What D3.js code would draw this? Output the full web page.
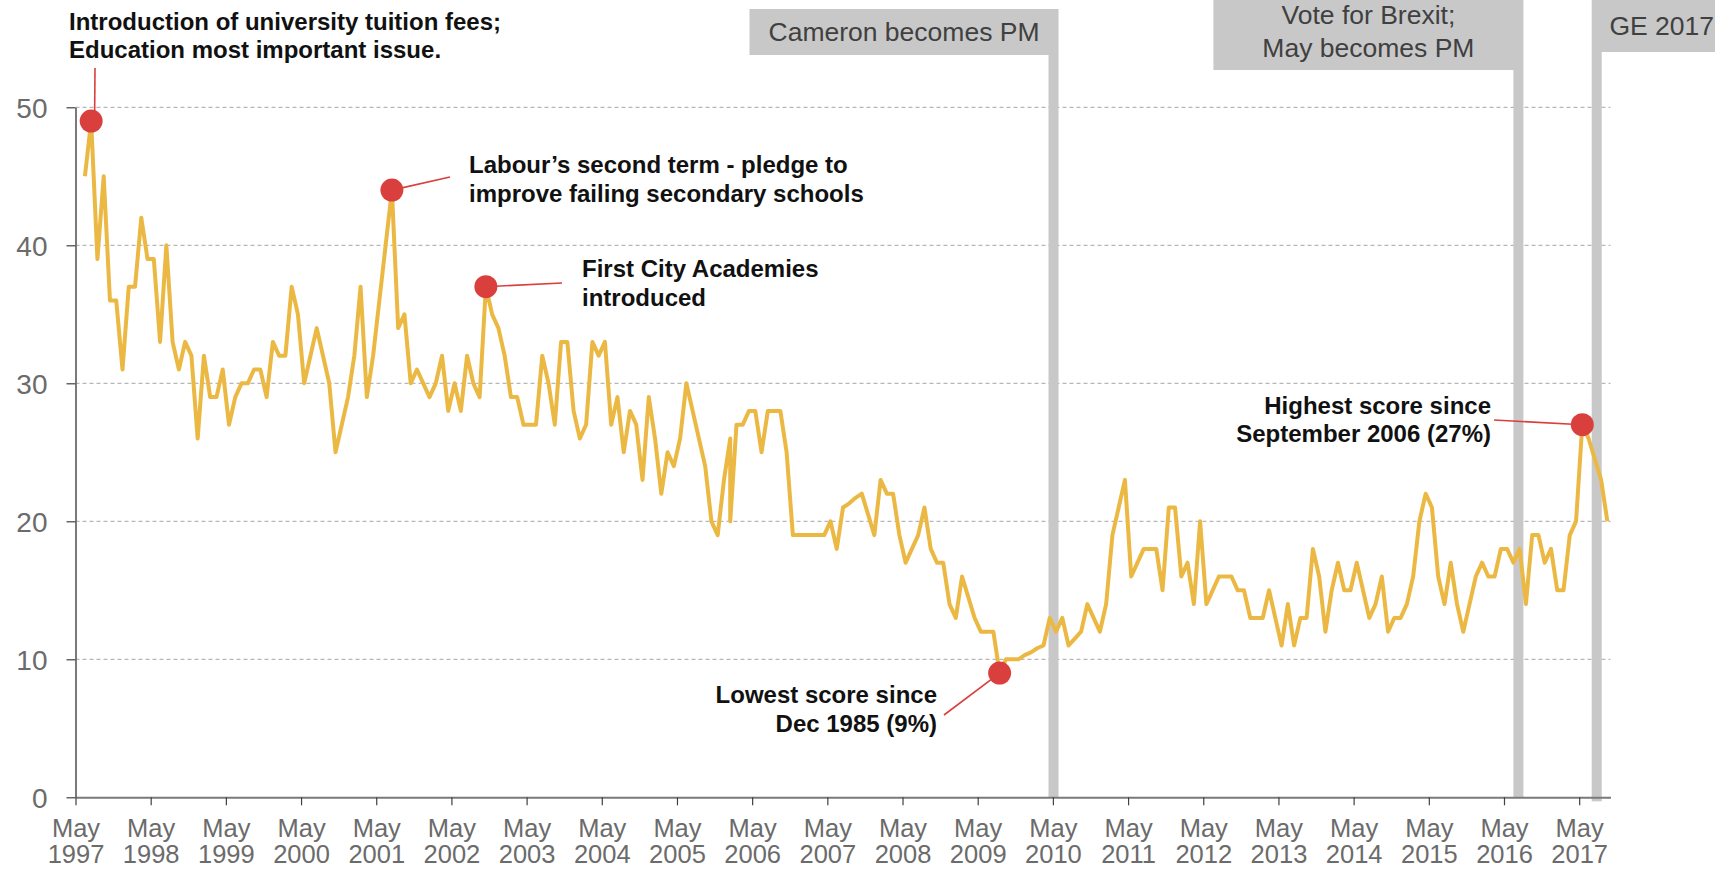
<!DOCTYPE html>
<html lang="en">
<head>
<meta charset="UTF-8">
<title>Education as an important issue</title>
<style>
    body { margin: 0; background: #fff; }
    svg { display: block; font-family: "Liberation Sans", Arial, sans-serif; }
    .grid line { stroke: #a6a6a6; stroke-width: 1; stroke-dasharray: 4,3; }
    .axis .domain { stroke: #7a7a7a; stroke-width: 2; }
    .axis .tick line { stroke: #404040; stroke-width: 1.2; }
    .axis text { fill: #6b6b6b; font-size: 25.5px; font-family: "Liberation Sans", Arial, sans-serif; }
    .axis.y text { font-size: 28px; }
    .series { fill: none; stroke: #ebb943; stroke-width: 4; stroke-linejoin: round; }
    .event rect { fill: #c8c8c8; }
    .event text { fill: #404040; font-size: 26.5px; text-anchor: middle; }
    .note text { fill: #111; font-size: 24px; font-weight: bold; }
    .note line { stroke: #d93f3c; stroke-width: 1.6; }
    .note circle { fill: #d93f3c; }
</style>
<script src="https://d3js.org/d3.v7.min.js"></script>
</head>
<body>
<script>
// monthly readings from June 1997; index 104 is a second reading in the same month as 103
const scores = [
    45, 49, 39, 45, 36, 36, 31, 37, 37, 42, 39, 39,
    33, 40, 33, 31, 33, 32, 26, 32, 29, 29, 31, 27,
    29, 30, 30, 31, 31, 29, 33, 32, 32, 37, 35, 30,
    32, 34, 32, 30, 25, 27, 29, 32, 37, 29, 32, 36,
    40, 44, 34, 35, 30, 31, 30, 29, 30, 32, 28, 30,
    28, 32, 30, 29, 37, 35, 34, 32, 29, 29, 27, 27,
    27, 32, 30, 27, 33, 33, 28, 26, 27, 33, 32, 33,
    27, 29, 25, 28, 27, 23, 29, 26, 22, 25, 24, 26,
    30, 28, 26, 24, 20, 19, 23, 26, 20,
    27, 27, 28, 28, 25, 28, 28, 28, 25, 19, 19, 19,
    19, 19, 19, 20, 18, 21, 21.3, 21.7, 22, 20.5, 19, 23,
    22, 22, 19, 17, 18, 19, 21, 18, 17, 17, 14, 13,
    16, 14.5, 13, 12, 12, 12, 9, 10, 10, 10, 10.3, 10.5,
    10.8, 11, 13, 12, 13, 11, 11.5, 12, 14, 13, 12, 14,
    19, 21, 23, 16, 17, 18, 18, 18, 15, 21, 21, 16,
    17, 14, 20, 14, 15, 16, 16, 16, 15, 15, 13, 13,
    13, 15, 13, 11, 14, 11, 13, 13, 18, 16, 12, 15,
    17, 15, 15, 17, 15, 13, 14, 16, 12, 13, 13, 14,
    16, 20, 22, 21, 16, 14, 17, 14, 12, 14, 16, 17,
    16, 16, 18, 18, 17, 18, 14, 19, 19, 17, 18, 15,
    15, 19, 20, 27, 26, 24.5, 23, 20
];
const sameMonthAsPrevious = [104];

const yTicks = [0, 10, 20, 30, 40, 50];
const tickMonth = "May";
const tickYears = ["1997", "1998", "1999", "2000", "2001", "2002", "2003", "2004", "2005", "2006",
    "2007", "2008", "2009", "2010", "2011", "2012", "2013", "2014", "2015", "2016", "2017"];

// months counted from May 1997
const events = [
    { lines: ["Cameron becomes PM"], month: 156.1 },
    { lines: ["Vote for Brexit;", "May becomes PM"], month: 230.3 },
    { lines: ["GE 2017"], month: 242.8 }
];

const notes = [
    { lines: ["Introduction of university tuition fees;", "Education most important issue."], at: 1 },
    { lines: ["Labour\u2019s second term - pledge to", "improve failing secondary schools"], at: 49 },
    { lines: ["First City Academies", "introduced"], at: 64 },
    { lines: ["Lowest score since", "Dec 1985 (9%)"], at: 147 },
    { lines: ["Highest score since", "September 2006 (27%)"], at: 240 }
];

const W = 1715, H = 869;
const x = d3.scaleLinear().domain([0, 245]).range([75.5, 1610.5]);
const y = d3.scaleLinear().domain([0, 50]).range([797.3, 107.3]);

const svg = d3.select("body").append("svg")
    .attr("width", W).attr("height", H)
    .attr("viewBox", `0 0 ${W} ${H}`);

// month position of every reading
let m = 1.5;
const points = scores.map((v, k) => {
    if (k > 0 && !sameMonthAsPrevious.includes(k)) m += 1;
    return { month: m, value: v };
});

svg.append("g").attr("class", "grid")
    .selectAll("line").data(yTicks.filter(d => d > 0)).enter().append("line")
    .attr("x1", x(0)).attr("x2", x(245))
    .attr("y1", d => y(d)).attr("y2", d => y(d));

// event bars and label boxes
const boxLayout = [
    { w: 309, top: 9, h: 46, align: "right" },
    { w: 310, top: 0, h: 70, align: "right" },
    { w: 124, top: 0, h: 52, align: "left" }
];
const eventGroups = svg.append("g").selectAll("g").data(events).enter().append("g")
    .attr("class", "event");
eventGroups.each(function (d, i) {
    const g = d3.select(this);
    const lay = boxLayout[i];
    const cx = x(d.month);
    const bx = lay.align === "right" ? cx + 5 - lay.w : cx - 5;
    g.append("rect")
        .attr("x", cx - 5).attr("width", 10)
        .attr("y", lay.top + lay.h).attr("height", y(0) - lay.top - lay.h + (i === 2 ? 4 : 0));
    g.append("rect")
        .attr("x", bx).attr("y", lay.top).attr("width", lay.w).attr("height", lay.h);
    const tx = i === 2 ? bx + 70 : bx + lay.w / 2;
    const first = d.lines.length === 1 ? lay.top + lay.h / 2 + 9 : lay.top + 24;
    d.lines.forEach((t, j) => {
        g.append("text").attr("x", tx).attr("y", first + j * 33).text(t);
    });
});

const yAxis = svg.append("g").attr("class", "axis y")
    .attr("transform", `translate(${x(0)},0)`)
    .call(d3.axisLeft(y).tickValues(yTicks).tickSize(9).tickSizeOuter(0).tickPadding(19));
yAxis.selectAll("text").attr("dy", "0.36em");

const xAxis = svg.append("g").attr("class", "axis x")
    .attr("transform", `translate(0,${y(0)})`)
    .call(d3.axisBottom(x).tickValues(tickYears.map((_, k) => k * 12)).tickSize(8).tickSizeOuter(0).tickFormat(""));
xAxis.selectAll(".tick").append("text")
    .attr("text-anchor", "middle")
    .each(function (d, k) {
        const t = d3.select(this);
        t.append("tspan").attr("x", 0).attr("y", 39.5).text(tickMonth);
        t.append("tspan").attr("x", 0).attr("y", 65.7).text(tickYears[k]);
    });

const line = d3.line().x(d => x(d.month)).y(d => y(d.value));
svg.append("path").datum(points).attr("class", "series").attr("d", line);

// annotation text placement on the page
const noteLayout = [
    { tx: 69, ty: 29.5, anchor: "start", lx: 95, ly: 68, dx: 3.5, dy: -10 },
    { tx: 469, ty: 173, anchor: "start", lx: 450, ly: 177, dx: 0, dy: 0 },
    { tx: 582, ty: 277, anchor: "start", lx: 562, ly: 283, dx: 0, dy: 0 },
    { tx: 937, ty: 703, anchor: "end", lx: 944, ly: 715, dx: 0, dy: 0 },
    { tx: 1491, ty: 413.5, anchor: "end", lx: 1494, ly: 420, dx: 0, dy: 0 }
];
const noteGroups = svg.append("g").selectAll("g").data(notes).enter().append("g")
    .attr("class", "note");
noteGroups.each(function (d, i) {
    const g = d3.select(this);
    const lay = noteLayout[i];
    const p = points[d.at];
    g.append("line")
        .attr("x1", x(p.month) + lay.dx).attr("y1", y(p.value) + lay.dy)
        .attr("x2", lay.lx).attr("y2", lay.ly);
    g.append("circle").attr("cx", x(p.month)).attr("cy", y(p.value)).attr("r", 11.5);
    d.lines.forEach((t, j) => {
        g.append("text").attr("x", lay.tx).attr("y", lay.ty + j * 28.5)
            .attr("text-anchor", lay.anchor).text(t);
    });
});
</script>
</body>
</html>
